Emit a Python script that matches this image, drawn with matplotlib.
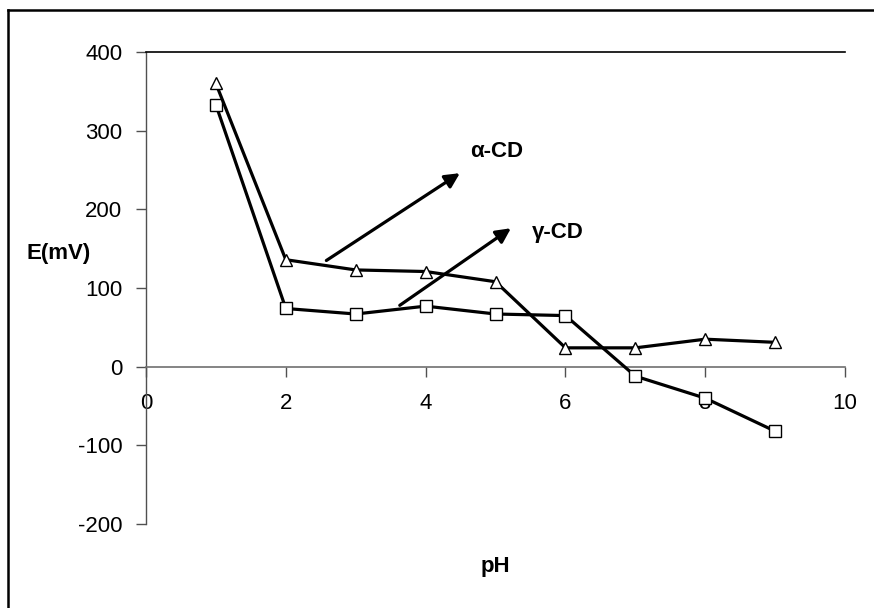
import matplotlib
matplotlib.use("Agg")
import matplotlib.pyplot as plt
from matplotlib.lines import Line2D

plt.rcParams['font.family'] = ['Liberation Sans', 'DejaVu Sans']
plt.rcParams['axes.unicode_minus'] = False

# data
ph = [1, 2, 3, 4, 5, 6, 7, 8, 9]
e_alpha = [360, 136, 123, 121, 108, 24, 24, 35, 31]    # triangles
e_gamma = [333, 74, 67, 77, 67, 65, -12, -40, -82]     # squares
x_ticks = [0, 2, 4, 6, 8, 10]
y_ticks = [-200, -100, 0, 100, 200, 300, 400]

fig = plt.figure(figsize=(8.74, 6.08), dpi=100)
ax = fig.add_axes([0.167, 0.138, 0.800, 0.7765])

ax.plot(ph, e_gamma, color='black', lw=2.3, marker='s', ms=9,
        mfc='white', mec='black', mew=1.0, zorder=3)
ax.plot(ph, e_alpha, color='black', lw=2.3, marker='^', ms=9,
        mfc='white', mec='black', mew=1.0, zorder=3)

ax.set_xlim(0, 10)
ax.set_ylim(-200, 400)
ax.set_xticks(x_ticks)
ax.set_yticks(y_ticks)

# spines: left axis, x-axis crossing at 0, top acts as gridline at 400
ax.spines['right'].set_visible(False)
ax.spines['bottom'].set_position(('data', 0))
ax.spines['bottom'].set_color('#707070')
ax.spines['bottom'].set_linewidth(1.2)
ax.spines['left'].set_color('#505050')
ax.spines['left'].set_linewidth(1.0)
ax.spines['top'].set_color('black')
ax.spines['top'].set_linewidth(1.2)

ax.tick_params(axis='y', direction='out', length=7, width=1, color='#505050',
               labelsize=16, pad=10)
ax.tick_params(axis='x', direction='out', length=7, width=1, color='#505050',
               labelsize=16, pad=12)

# axis titles
fig.text(0.067, 0.583, 'E(mV)', fontsize=16, fontweight='bold',
         ha='center', va='center')
fig.text(0.567, 0.069, 'pH', fontsize=16, fontweight='bold',
         ha='center', va='center')

# annotation arrows
arrow = dict(arrowstyle='-|>', color='black', lw=2.3, mutation_scale=22,
             shrinkA=0, shrinkB=0)
ax.annotate('', xy=(4.49, 246), xytext=(2.58, 135), arrowprops=arrow)
ax.annotate('', xy=(5.22, 176), xytext=(3.63, 78), arrowprops=arrow)
ax.text(4.63, 273, 'α-CD', fontsize=16, fontweight='bold', va='center')
ax.text(5.52, 171, 'γ-CD', fontsize=16, fontweight='bold', va='center')

# frame: only left and top edges visible
fig.add_artist(Line2D([8 / 874, 8 / 874], [0, 1 - 10 / 608],
                      transform=fig.transFigure, color='black', lw=1.8))
fig.add_artist(Line2D([8 / 874, 1], [1 - 10 / 608, 1 - 10 / 608],
                      transform=fig.transFigure, color='black', lw=1.8))

fig.savefig('out.png', dpi=100)
